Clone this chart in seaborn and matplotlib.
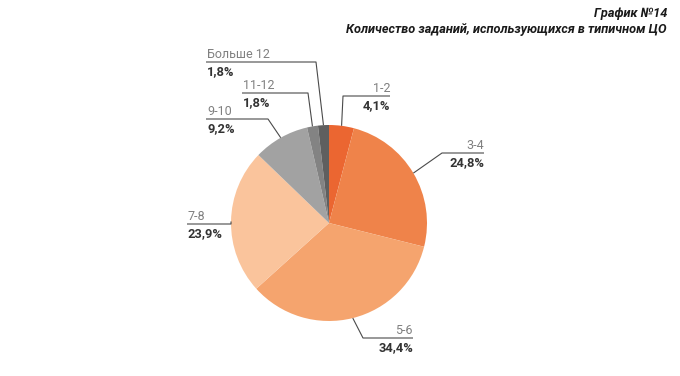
import matplotlib
matplotlib.use("Agg")
import matplotlib.pyplot as plt
import seaborn as sns
import numpy as np

# ---- data ----
categories = ["1-2", "3-4", "5-6", "7-8", "9-10", "11-12", "Больше 12"]
shares = [4.1, 24.8, 34.4, 23.9, 9.2, 1.8, 1.8]
title_lines = ["График №14", "Количество заданий, использующихся в типичном ЦО"]

# ---- style ----
sns.set_theme(style="white")
plt.rcParams['font.family'] = ['Roboto', 'DejaVu Sans']
colors = ["#EB6631", "#EF834A", "#F5A46E", "#FAC49C", "#A2A2A2", "#838383", "#5F5F5F"]

W, H = 680, 376
fig = plt.figure(figsize=(W / 100, H / 100), dpi=100)
ax = fig.add_axes([0, 0, 1, 1])

cx, cy, r = 329, H - 223, 98
wedges, _ = ax.pie(shares, colors=colors, startangle=90, counterclock=False,
                   center=(cx, cy), radius=r, wedgeprops=dict(linewidth=0))
ax.set_xlim(0, W)
ax.set_ylim(0, H)
ax.set_aspect('equal')
ax.axis('off')

# label layout (pixel coordinates, y down): elbow point, end of horizontal line, side
layout = [
    ((343, 96), 390, 'right'),
    ((442, 153), 484, 'right'),
    ((363, 338), 413, 'right'),
    ((231, 224), 187, 'left'),
    ((268, 119), 206, 'left'),
    ((308, 93), 242, 'left'),
    ((316, 62), 206, 'left'),
]

line_col = "#4a4a4a"
for w, cat, val, (elbow, xend, side) in zip(wedges, categories, shares, layout):
    mid = np.deg2rad((w.theta1 + w.theta2) / 2)
    px, py = cx + r * np.cos(mid), cy + r * np.sin(mid)
    ex, ey = elbow[0], H - elbow[1]
    ax.plot([px, ex, xend], [py, ey, ey], color=line_col, lw=0.8,
            solid_capstyle='butt', zorder=3)
    tx = xend + (1 if side == 'left' else 0)
    ax.text(tx, ey + 7.5, cat, ha=side, va='center', fontsize=9, color="#808080")
    ax.text(tx, ey - 9.5, f"{val:.1f}".replace('.', ',') + "%", ha=side, va='center',
            fontsize=9.3, fontweight='bold', color="#333333")

ax.text(667, H - 13, title_lines[0], ha='right', va='center', fontsize=9.2,
        fontweight='bold', fontstyle='italic', color="#1a1a1a")
ax.text(667, H - 30, title_lines[1], ha='right', va='center', fontsize=9.2,
        fontweight='bold', fontstyle='italic', color="#1a1a1a")

fig.savefig("out.png", dpi=100)
